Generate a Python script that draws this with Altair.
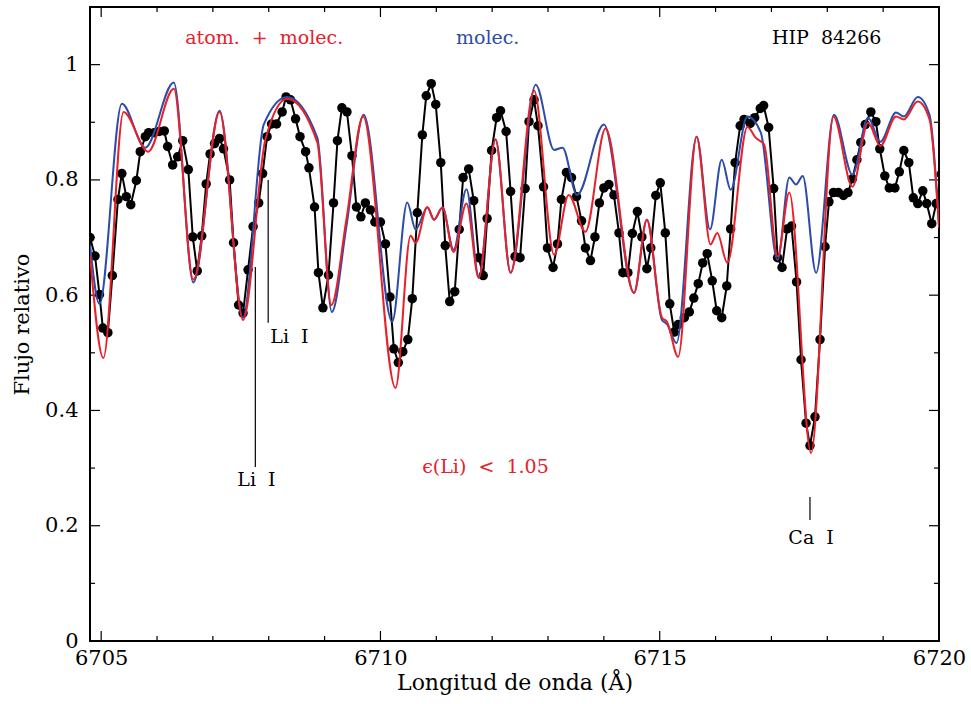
import altair as alt
import pandas as pd

# Observed spectrum (HIP 84266)
obs_wave = [6704.80, 6704.89, 6704.97, 6705.03, 6705.12, 6705.20, 6705.30, 6705.37, 6705.45, 6705.53,
            6705.63, 6705.70, 6705.79, 6705.85, 6705.95, 6706.04, 6706.13, 6706.19, 6706.28, 6706.37,
            6706.46, 6706.56, 6706.64, 6706.72, 6706.80, 6706.88, 6706.95, 6707.03, 6707.12, 6707.19,
            6707.30, 6707.37, 6707.46, 6707.54, 6707.63, 6707.72, 6707.82, 6707.89, 6707.97, 6708.05,
            6708.14, 6708.24, 6708.31, 6708.39, 6708.48, 6708.56, 6708.66, 6708.72, 6708.82, 6708.89,
            6708.97, 6709.07, 6709.16, 6709.23, 6709.31, 6709.40, 6709.49, 6709.57, 6709.65, 6709.73,
            6709.82, 6709.90, 6710.00, 6710.09, 6710.17, 6710.24, 6710.32, 6710.40, 6710.49, 6710.57,
            6710.66, 6710.75, 6710.82, 6710.91, 6710.99, 6711.08, 6711.16, 6711.24, 6711.33, 6711.41,
            6711.48, 6711.58, 6711.67, 6711.76, 6711.84, 6711.91, 6711.99, 6712.08, 6712.15, 6712.25,
            6712.33, 6712.41, 6712.50, 6712.59, 6712.66, 6712.75, 6712.82, 6712.92, 6712.99, 6713.09,
            6713.17, 6713.24, 6713.33, 6713.42, 6713.51, 6713.60, 6713.67, 6713.76, 6713.84, 6713.92,
            6714.00, 6714.09, 6714.18, 6714.27, 6714.34, 6714.43, 6714.51, 6714.60, 6714.68, 6714.77,
            6714.84, 6714.93, 6715.01, 6715.10, 6715.18, 6715.26, 6715.33, 6715.44, 6715.53, 6715.61,
            6715.69, 6715.77, 6715.85, 6715.94, 6716.02, 6716.11, 6716.20, 6716.27, 6716.35, 6716.44,
            6716.51, 6716.62, 6716.70, 6716.80, 6716.86, 6716.95, 6717.04, 6717.11, 6717.19, 6717.28,
            6717.36, 6717.45, 6717.53, 6717.62, 6717.69, 6717.78, 6717.87, 6717.96, 6718.03, 6718.11,
            6718.20, 6718.29, 6718.37, 6718.45, 6718.53, 6718.60, 6718.68, 6718.78, 6718.87, 6718.94,
            6719.03, 6719.11, 6719.21, 6719.29, 6719.37, 6719.46, 6719.54, 6719.62, 6719.71, 6719.78,
            6719.87, 6719.95, 6720.04]
obs_flux = [0.700, 0.668, 0.601, 0.543, 0.535, 0.634, 0.766, 0.811, 0.771, 0.757,
            0.799, 0.849, 0.875, 0.882, 0.882, 0.884, 0.885, 0.858, 0.826, 0.840,
            0.868, 0.818, 0.701, 0.642, 0.703, 0.793, 0.845, 0.863, 0.872, 0.854,
            0.800, 0.691, 0.583, 0.569, 0.644, 0.719, 0.760, 0.811, 0.875, 0.897,
            0.897, 0.918, 0.944, 0.939, 0.906, 0.875, 0.849, 0.821, 0.753, 0.639,
            0.578, 0.635, 0.760, 0.868, 0.925, 0.918, 0.842, 0.753, 0.736, 0.760,
            0.748, 0.727, 0.727, 0.689, 0.597, 0.507, 0.483, 0.502, 0.523, 0.594,
            0.743, 0.878, 0.946, 0.967, 0.931, 0.830, 0.686, 0.589, 0.606, 0.714,
            0.804, 0.819, 0.764, 0.665, 0.634, 0.733, 0.851, 0.908, 0.920, 0.884,
            0.780, 0.667, 0.665, 0.785, 0.901, 0.939, 0.894, 0.788, 0.682, 0.648,
            0.689, 0.766, 0.813, 0.804, 0.771, 0.729, 0.682, 0.660, 0.701, 0.760,
            0.786, 0.792, 0.774, 0.708, 0.639, 0.639, 0.707, 0.745, 0.701, 0.646,
            0.682, 0.773, 0.795, 0.708, 0.585, 0.536, 0.549, 0.561, 0.571, 0.595,
            0.620, 0.656, 0.672, 0.625, 0.573, 0.561, 0.616, 0.715, 0.830, 0.894,
            0.905, 0.898, 0.908, 0.924, 0.929, 0.891, 0.785, 0.665, 0.648, 0.715,
            0.720, 0.623, 0.488, 0.378, 0.339, 0.389, 0.523, 0.684, 0.762, 0.778,
            0.778, 0.773, 0.778, 0.802, 0.835, 0.865, 0.896, 0.918, 0.901, 0.854,
            0.807, 0.786, 0.786, 0.814, 0.851, 0.830, 0.769, 0.759, 0.781, 0.759,
            0.724, 0.759, 0.810]

# Synthetic spectrum: atoms + molecules (red)
red_wave = [6704.80, 6705.04, 6705.40, 6705.84, 6706.30, 6706.65, 6707.12, 6707.54, 6707.94, 6708.33,
            6708.87, 6709.12, 6709.39, 6709.69, 6710.27, 6710.54, 6710.63, 6710.84, 6710.96, 6711.11,
            6711.31, 6711.54, 6711.76, 6712.06, 6712.33, 6712.75, 6713.11, 6713.37, 6713.67, 6714.03,
            6714.54, 6714.77, 6715.04, 6715.13, 6715.33, 6715.66, 6715.91, 6716.03, 6716.21, 6716.57,
            6716.72, 6716.87, 6717.11, 6717.32, 6717.71, 6718.11, 6718.45, 6718.73, 6718.95, 6719.23,
            6719.37, 6719.62, 6719.83, 6720.00]
red_flux = [0.670, 0.491, 0.918, 0.849, 0.958, 0.627, 0.918, 0.557, 0.870, 0.941,
            0.865, 0.583, 0.731, 0.910, 0.439, 0.703, 0.691, 0.753, 0.731, 0.752,
            0.675, 0.759, 0.630, 0.870, 0.639, 0.955, 0.670, 0.774, 0.710, 0.889,
            0.604, 0.731, 0.561, 0.554, 0.493, 0.875, 0.688, 0.708, 0.656, 0.892,
            0.873, 0.861, 0.667, 0.778, 0.326, 0.910, 0.788, 0.899, 0.859, 0.910,
            0.905, 0.936, 0.905, 0.717]

# Synthetic spectrum: molecules only (blue)
blue_wave = [6704.80, 6704.97, 6705.37, 6705.79, 6706.30, 6706.65, 6707.12, 6707.54, 6707.91, 6708.33,
             6708.87, 6709.13, 6709.39, 6709.70, 6710.21, 6710.48, 6710.63, 6710.84, 6710.96, 6711.11,
             6711.31, 6711.54, 6711.76, 6712.06, 6712.33, 6712.78, 6713.11, 6713.26, 6713.52, 6714.00,
             6714.54, 6714.77, 6715.04, 6715.13, 6715.30, 6715.66, 6715.90, 6716.11, 6716.27, 6716.57,
             6716.81, 6717.11, 6717.32, 6717.44, 6717.56, 6717.80, 6718.12, 6718.45, 6718.73, 6718.95,
             6719.23, 6719.37, 6719.62, 6719.83, 6720.00]
blue_flux = [0.688, 0.585, 0.932, 0.856, 0.969, 0.622, 0.920, 0.561, 0.896, 0.944,
             0.873, 0.571, 0.719, 0.913, 0.554, 0.761, 0.714, 0.752, 0.731, 0.752,
             0.679, 0.784, 0.632, 0.870, 0.639, 0.965, 0.852, 0.856, 0.774, 0.896,
             0.604, 0.731, 0.557, 0.550, 0.517, 0.875, 0.714, 0.835, 0.783, 0.910,
             0.882, 0.661, 0.804, 0.792, 0.807, 0.639, 0.913, 0.809, 0.908, 0.866,
             0.917, 0.910, 0.944, 0.913, 0.722]

NB = "\u00a0"

# Line identifications
line_names = ["Li" + NB * 2 + "I", "Li" + NB * 2 + "I", "Ca" + NB * 2 + "I"]
line_wave = [6707.76, 6707.99, 6717.69]
line_top = [0.649, 0.800, 0.250]
line_bottom = [0.302, 0.552, 0.210]
line_label_wave = [6707.78, 6708.37, 6717.71]
line_label_flux = [0.280, 0.528, 0.179]

# Header texts
note_text = ["atom." + NB * 2 + "+" + NB * 2 + "molec.", "molec.", "HIP" + NB * 2 + "84266",
             "\u03f5(Li)" + NB * 2 + "<" + NB * 2 + "1.05"]
note_wave = [6707.92, 6711.92, 6717.99, 6711.88]
note_flux = [1.047, 1.047, 1.047, 0.302]
note_color = ["#e8202a", "#2c4ca8", "#000000", "#e8202a"]

x_major = [6705, 6710, 6715, 6720]
x_minor = [6706, 6707, 6708, 6709, 6711, 6712, 6713, 6714, 6716, 6717, 6718, 6719]
y_major = [0.0, 0.2, 0.4, 0.6, 0.8, 1.0]
y_minor = [0.1, 0.3, 0.5, 0.7, 0.9]

W, H = 849, 634
FONT = "DejaVu Serif"
RED = "#e8202a"
BLUE = "#2c4ca8"

xscale = alt.Scale(domain=[6704.8, 6720], nice=False, zero=False)
yscale = alt.Scale(domain=[0, 1.1], nice=False, zero=True)
xaxis = alt.Axis(values=x_major, format="d", ticks=False, domain=False, grid=False,
                 labelFont=FONT, labelFontSize=21, labelColor="black", labelPadding=6,
                 labelFlush=False, title="Longitud de onda (\u00c5)", titleFont=FONT,
                 titleFontSize=22, titleFontWeight="normal", titleColor="black", titlePadding=4)
yaxis = alt.Axis(values=y_major, format=".1~f", ticks=False, domain=False, grid=False,
                 labelFont=FONT, labelFontSize=21, labelColor="black", labelPadding=12,
                 labelFlush=False, title="Flujo relativo", titleFont=FONT, titleFontSize=21,
                 titleFontWeight="normal", titleColor="black", titlePadding=12)


def X(field):
    return alt.X(f"{field}:Q", scale=xscale, axis=xaxis)


def Y(field):
    return alt.Y(f"{field}:Q", scale=yscale, axis=yaxis)


obs = pd.DataFrame({"w": obs_wave, "f": obs_flux})
red = pd.DataFrame({"w": red_wave, "f": red_flux})
blue = pd.DataFrame({"w": blue_wave, "f": blue_flux})
lines = pd.DataFrame({"w": line_wave, "t": line_top, "b": line_bottom,
                      "lw": line_label_wave, "lf": line_label_flux, "name": line_names})
notes = pd.DataFrame({"w": note_wave, "f": note_flux, "text": note_text, "c": note_color})
xmaj = pd.DataFrame({"w": x_major})
xmin = pd.DataFrame({"w": x_minor})
ymaj = pd.DataFrame({"f": y_major})
ymin = pd.DataFrame({"f": y_minor})

obs_line = alt.Chart(obs).mark_line(color="black", strokeWidth=2, clip=True).encode(x=X("w"), y=Y("f"))
obs_pts = alt.Chart(obs).mark_circle(color="black", opacity=1, size=90, clip=True).encode(x=X("w"), y=Y("f"))
blue_line = alt.Chart(blue).mark_line(color=BLUE, strokeWidth=2, interpolate="monotone", clip=True).encode(
    x=X("w"), y=Y("f"))
red_line = alt.Chart(red).mark_line(color=RED, strokeWidth=2, interpolate="monotone", clip=True).encode(
    x=X("w"), y=Y("f"))

id_rules = alt.Chart(lines).mark_rule(color="black", strokeWidth=1.2).encode(
    x=X("w"), y=Y("t"), y2="b:Q")
id_text = alt.Chart(lines).mark_text(font=FONT, fontSize=19, color="black").encode(
    x=X("lw"), y=Y("lf"), text="name:N")
note_layer = alt.Chart(notes).mark_text(font=FONT, fontSize=19).encode(
    x=X("w"), y=Y("f"), text="text:N", color=alt.Color("c:N", scale=None))

tick_layers = []
for df, ln in ((xmaj, 10), (xmin, 5)):
    tick_layers.append(alt.Chart(df).mark_rule(color="black", strokeWidth=1.2).encode(
        x=X("w"), y=alt.value(H), y2=alt.value(H - ln)))
    tick_layers.append(alt.Chart(df).mark_rule(color="black", strokeWidth=1.2).encode(
        x=X("w"), y=alt.value(0), y2=alt.value(ln)))
for df, ln in ((ymaj, 10), (ymin, 5)):
    tick_layers.append(alt.Chart(df).mark_rule(color="black", strokeWidth=1.2).encode(
        y=Y("f"), x=alt.value(0), x2=alt.value(ln)))
    tick_layers.append(alt.Chart(df).mark_rule(color="black", strokeWidth=1.2).encode(
        y=Y("f"), x=alt.value(W), x2=alt.value(W - ln)))

chart = alt.layer(
    *tick_layers, obs_line, obs_pts, blue_line, red_line, id_rules, id_text, note_layer
).properties(
    width=W, height=H,
    padding={"left": 90, "top": 7, "right": 32, "bottom": 63},
    autosize=alt.AutoSizeParams(type="none"),
    background="white",
).configure_view(stroke="black", strokeWidth=2)

chart.save("out.html", embed_options={"renderer": "svg", "actions": False})
